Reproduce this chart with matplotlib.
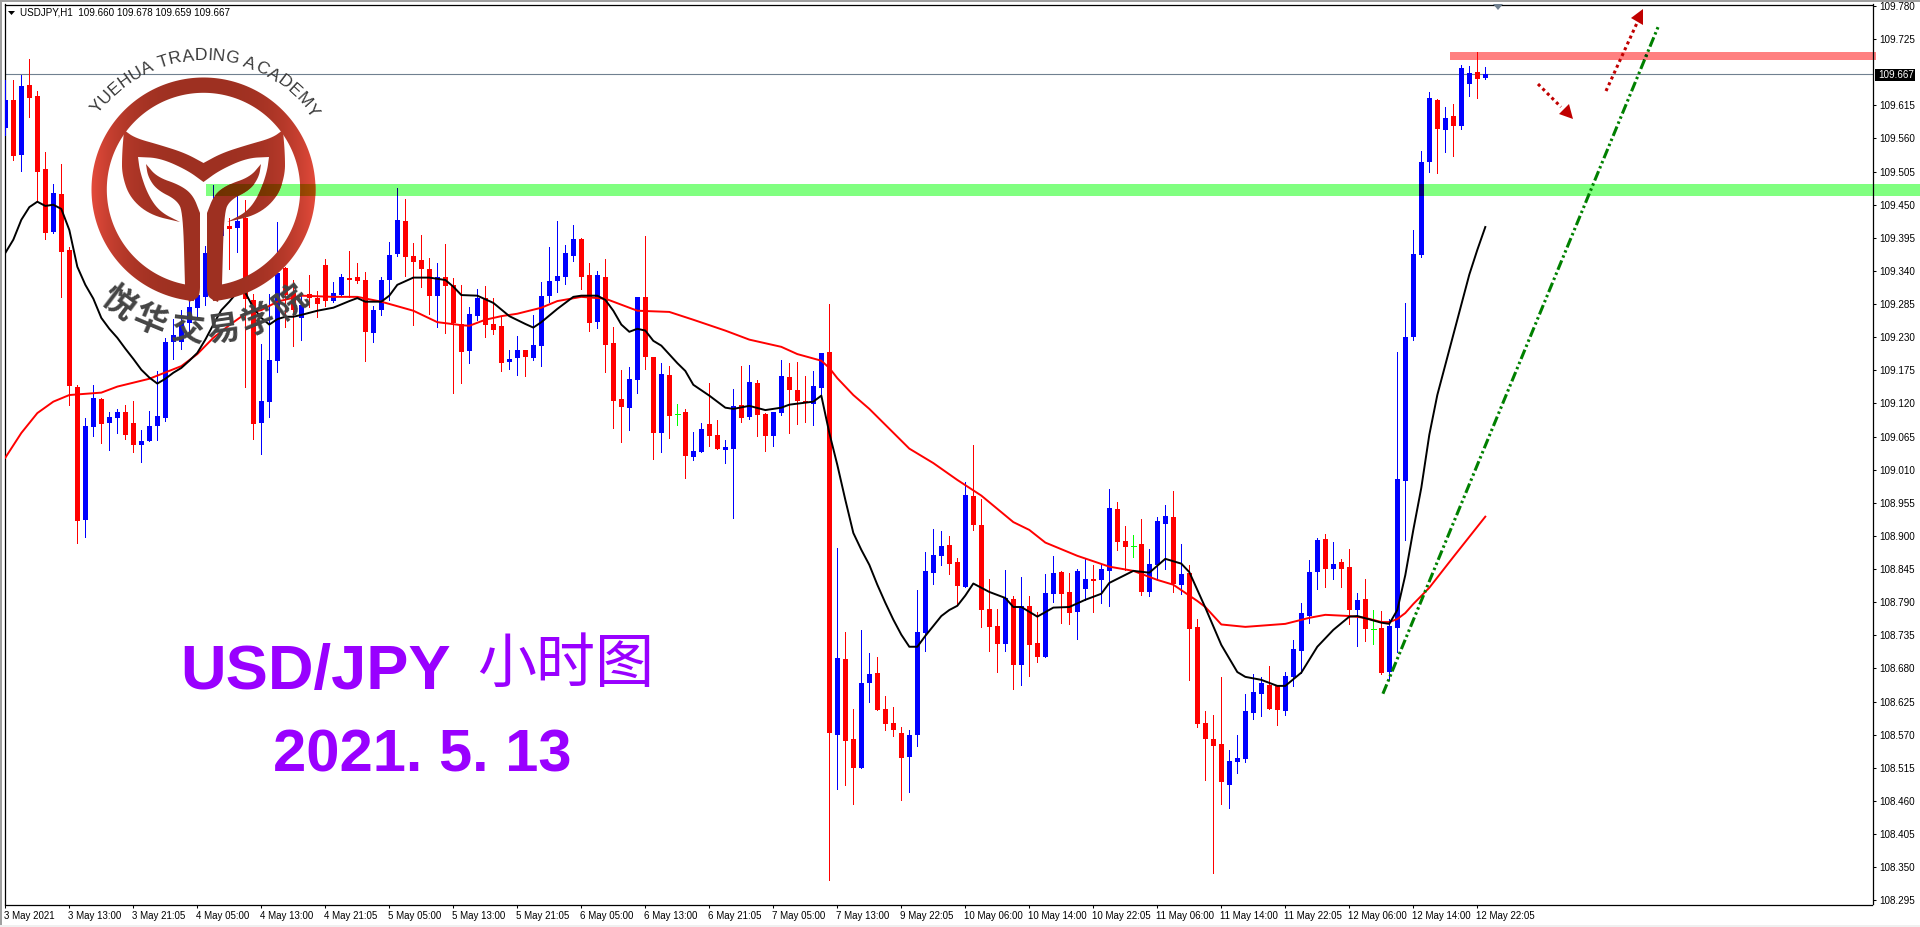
import numpy as np
import matplotlib
matplotlib.use('Agg')
import matplotlib.pyplot as plt
from matplotlib.font_manager import FontProperties
from matplotlib.patches import Polygon, Rectangle
from matplotlib.textpath import TextPath
from matplotlib.transforms import ScaledTranslation

opens = [
    109.578,109.624,109.533,109.649,109.631,109.509,109.405,109.468,109.375,109.148,
    108.927,109.081,109.128,109.088,109.096,109.106,109.088,109.051,109.058,109.083,
    109.096,109.222,109.222,109.254,109.279,109.297,109.370,109.398,109.415,109.412,
    109.428,109.292,109.088,109.123,109.191,109.345,109.304,109.262,109.302,109.295,
    109.350,109.290,109.300,109.329,109.330,109.325,109.237,109.275,109.325,109.368,
    109.423,109.365,109.358,109.343,109.299,109.330,109.317,109.252,109.207,109.265,
    109.295,109.252,109.249,109.189,109.196,109.209,109.196,109.216,109.299,109.324,
    109.330,109.365,109.393,109.334,109.255,109.330,109.221,109.128,109.113,109.159,
    109.297,109.197,109.071,109.168,109.103,109.106,109.031,109.040,109.086,109.068,
    109.043,109.045,109.118,109.098,109.154,109.103,109.066,109.104,109.164,109.143,
    109.124,109.119,109.146,109.206,108.570,108.696,108.563,108.515,108.656,108.673,
    108.613,108.590,108.573,108.533,108.570,108.739,108.839,108.867,108.885,108.857,
    108.816,108.967,108.918,108.779,108.751,108.721,108.796,108.686,108.784,108.723,
    108.699,108.804,108.840,108.807,108.774,108.812,108.829,108.827,108.842,108.945,
    108.892,108.884,108.887,108.807,108.852,108.920,108.932,108.819,108.839,108.749,
    108.590,108.563,108.555,108.487,108.525,108.530,108.606,108.638,108.653,108.651,
    108.610,108.665,108.709,108.767,108.840,108.895,108.845,108.857,108.849,108.777,
    108.796,108.746,108.747,108.674,108.747,108.992,109.231,109.367,109.521,109.624,
    109.574,109.597,109.581,109.651,109.670,109.660]
highs = [
    109.657,109.657,109.666,109.692,109.639,109.538,109.485,109.518,109.380,109.151,
    109.096,109.151,109.129,109.106,109.111,109.118,109.124,109.076,109.108,109.174,
    109.229,109.260,109.275,109.300,109.317,109.382,109.483,109.433,109.428,109.466,
    109.458,109.302,109.219,109.302,109.421,109.347,109.325,109.299,109.334,109.307,
    109.360,109.322,109.335,109.373,109.353,109.338,109.282,109.330,109.388,109.478,
    109.460,109.387,109.400,109.362,109.353,109.385,109.329,109.317,109.280,109.310,
    109.315,109.295,109.264,109.209,109.232,109.209,109.267,109.322,109.380,109.423,
    109.383,109.416,109.395,109.353,109.340,109.360,109.247,109.176,109.181,109.297,
    109.398,109.197,109.187,109.182,109.119,109.111,109.073,109.088,109.154,109.093,
    109.060,109.144,109.182,109.184,109.159,109.104,109.106,109.192,109.187,109.189,
    109.166,109.174,109.204,109.285,108.880,108.741,108.613,108.743,108.706,108.699,
    108.635,108.616,108.582,108.577,108.811,108.874,108.912,108.909,108.900,108.864,
    108.990,109.051,108.962,108.829,108.779,108.844,108.801,108.832,108.801,108.774,
    108.837,108.867,108.842,108.839,108.845,108.862,108.852,108.852,108.978,108.957,
    108.917,108.902,108.928,108.879,108.932,108.952,108.975,108.887,108.852,108.762,
    108.610,108.603,108.666,108.545,108.570,108.638,108.670,108.666,108.684,108.651,
    108.674,108.728,108.789,108.860,108.897,108.904,108.890,108.862,108.879,108.806,
    108.829,108.777,108.776,108.762,109.206,109.287,109.408,109.539,109.637,109.626,
    109.612,109.617,109.682,109.680,109.704,109.678]
lows = [
    109.566,109.524,109.506,109.596,109.456,109.393,109.403,109.297,109.118,108.889,
    108.899,109.066,109.055,109.043,109.071,109.061,109.040,109.023,109.058,109.060,
    109.091,109.194,109.211,109.237,109.262,109.284,109.355,109.392,109.343,109.372,
    109.148,109.061,109.036,109.098,109.172,109.247,109.216,109.226,109.280,109.264,
    109.282,109.289,109.300,109.297,109.320,109.191,109.222,109.267,109.292,109.365,
    109.332,109.251,109.314,109.269,109.247,109.237,109.138,109.154,109.187,109.259,
    109.231,109.236,109.174,109.177,109.168,109.166,109.192,109.182,109.289,109.305,
    109.319,109.357,109.310,109.241,109.246,109.172,109.080,109.056,109.076,109.138,
    109.177,109.028,109.040,109.063,109.085,108.996,109.026,109.040,109.050,109.045,
    109.021,108.930,109.089,109.094,109.066,109.041,109.050,109.101,109.071,109.086,
    109.089,109.084,109.131,108.329,108.480,108.487,108.455,108.515,108.625,108.611,
    108.577,108.568,108.462,108.475,108.552,108.709,108.821,108.852,108.836,108.786,
    108.816,108.910,108.749,108.709,108.674,108.709,108.646,108.653,108.668,108.691,
    108.699,108.791,108.756,108.753,108.729,108.794,108.774,108.789,108.784,108.877,
    108.844,108.865,108.802,108.801,108.830,108.845,108.807,108.804,108.661,108.582,
    108.495,108.341,108.455,108.449,108.507,108.525,108.596,108.601,108.613,108.586,
    108.603,108.651,108.673,108.756,108.812,108.816,108.829,108.816,108.754,108.718,
    108.726,108.721,108.670,108.661,108.708,108.894,109.226,109.363,109.504,109.503,
    109.538,109.531,109.576,109.631,109.627,109.659]
closes = [
    109.624,109.531,109.647,109.627,109.504,109.403,109.470,109.372,109.149,108.925,
    109.083,109.129,109.086,109.098,109.106,109.068,109.051,109.058,109.083,109.099,
    109.222,109.234,109.254,109.280,109.300,109.370,109.450,109.416,109.410,109.423,
    109.294,109.086,109.124,109.192,109.337,109.300,109.275,109.284,109.295,109.285,
    109.290,109.304,109.330,109.325,109.324,109.239,109.275,109.325,109.367,109.425,
    109.363,109.355,109.343,109.299,109.330,109.315,109.254,109.206,109.269,109.295,
    109.251,109.242,109.187,109.194,109.209,109.197,109.217,109.299,109.324,109.332,
    109.370,109.393,109.330,109.254,109.334,109.217,109.124,109.114,109.161,109.297,
    109.197,109.071,109.169,109.099,109.103,109.033,109.041,109.078,109.066,109.045,
    109.048,109.116,109.096,109.156,109.101,109.066,109.106,109.166,109.143,109.124,
    109.121,109.149,109.204,108.573,108.698,108.560,108.515,108.656,108.671,108.611,
    108.587,108.578,108.532,108.570,108.741,108.842,108.869,108.884,108.854,108.817,
    108.968,108.918,108.777,108.749,108.721,108.797,108.686,108.784,108.719,108.699,
    108.806,108.839,108.804,108.772,108.842,108.829,108.826,108.845,108.947,108.890,
    108.882,108.884,108.807,108.854,108.925,108.933,108.821,108.837,108.746,108.588,
    108.563,108.552,108.492,108.527,108.532,108.610,108.641,108.655,108.613,108.611,
    108.668,108.713,108.772,108.840,108.894,108.845,108.854,108.845,108.777,108.794,
    108.746,108.746,108.673,108.751,108.995,109.231,109.368,109.521,109.627,109.576,
    109.594,109.581,109.677,109.669,109.659,109.667]

black_bars = [0,1,2,3,4,5,6,7,8,9,10,11,12,13,14,15,16,17,18,19,20,21,22,23,24,25,26,27,28,29,30,31,32,33,34,35,36,37,
              39,41,43,44,45,47,48,49,51,53,55,56,57,59,61,63,65,66,67,69,71,72,74,75,76,77,78,79,80,81,82,84,85,86,88,
              90,91,93,95,97,98,101,102,103,104,105,106,107,108,109,110,111,112,113,114,115,117,118,119,120,121,123,125,
              126,127,129,131,133,135,137,138,141,143,145,147,148,150,152,154,155,157,159,160,162,164,166,168,169,172,
              173,174,175,176,177,178,179,180,181,182,183,184,185]
black_ma = [109.370,109.392,109.425,109.446,109.455,109.448,109.450,109.443,109.408,109.347,109.317,109.294,109.262,
            109.244,109.229,109.211,109.194,109.176,109.163,109.153,109.161,109.171,109.179,109.191,109.204,109.226,
            109.251,109.275,109.289,109.305,109.304,109.279,109.262,109.251,109.260,109.264,109.264,109.267,
            109.274,109.279,109.290,109.295,109.289,109.289,109.299,109.317,109.329,109.329,109.325,109.314,109.300,
            109.299,109.287,109.265,109.252,109.246,109.255,109.277,109.297,109.299,109.299,109.292,109.274,109.251,
            109.239,109.244,109.241,109.224,109.216,109.187,109.174,109.151,109.133,109.113,109.111,109.116,109.109,
            109.113,109.118,109.123,109.133,109.071,109.018,108.960,108.905,108.877,108.852,108.819,108.789,108.761,
            108.736,108.716,108.716,108.734,108.767,108.777,108.784,108.801,108.821,108.807,108.797,108.782,108.782,
            108.766,108.781,108.782,108.794,108.804,108.822,108.842,108.839,108.862,108.854,108.840,108.781,108.719,
            108.674,108.666,108.661,108.651,108.651,108.673,108.716,108.744,108.766,108.767,108.756,108.754,108.777,
            108.835,108.910,108.980,109.068,109.134,109.184,109.234,109.284,109.334,109.375,109.413]
red_bars = [0,2,4,6,8,12,14,18,22,24,26,28,30,32,34,37,41,44,47,51,54,57,58,60,62,64,67,69,72,75,79,83,86,90,93,97,99,
            102,103,104,106,108,113,116,119,122,126,128,130,134,138,141,144,146,149,150,152,155,159,160,163,165,168,170,
            172,173,174,175,176,178,181,185]
red_ma = [109.030,109.071,109.104,109.123,109.134,109.138,109.148,109.161,109.182,109.202,109.229,109.250,109.269,
          109.275,109.289,109.299,109.297,109.297,109.289,109.274,109.255,109.250,109.249,109.259,109.265,109.269,
          109.279,109.290,109.297,109.294,109.274,109.272,109.259,109.241,109.226,109.214,109.202,109.191,109.179,
          109.162,109.134,109.111,109.045,109.021,108.993,108.967,108.923,108.910,108.889,108.867,108.849,108.842,
          108.827,108.819,108.792,108.782,108.753,108.749,108.753,108.754,108.764,108.769,108.767,108.764,108.757,
          108.757,108.762,108.772,108.787,108.814,108.865,108.932]

trend_bars = [172.2, 206.7]
trend_prices = [108.638, 109.7485]
support_band = (109.465, 109.485)
support_start = 25.1
resist_band = (109.690, 109.704)
resist_start = 180.6
current_price = 109.667

y_ticks = [109.780,109.725,109.615,109.560,109.505,109.450,109.395,109.340,109.285,109.230,109.175,109.120,109.065,
           109.010,108.955,108.900,108.845,108.790,108.735,108.680,108.625,108.570,108.515,108.460,108.405,108.350,108.295]
x_labels = ['3 May 2021','3 May 13:00','3 May 21:05','4 May 05:00','4 May 13:00','4 May 21:05','5 May 05:00','5 May 13:00',
            '5 May 21:05','6 May 05:00','6 May 13:00','6 May 21:05','7 May 05:00','7 May 13:00','9 May 22:05','10 May 06:00',
            '10 May 14:00','10 May 22:05','11 May 06:00','11 May 14:00','11 May 22:05','12 May 06:00','12 May 14:00','12 May 22:05']

plt.rcParams['font.family'] = ['Liberation Sans', 'DejaVu Sans']
W, H = 1920, 927
fig = plt.figure(figsize=(W / 100, H / 100), dpi=100, facecolor='white')
ax = fig.add_axes([4.5 / W, (H - 904.5) / H, 1868 / W, 900 / H])
y_top = 109.7825
ax.set_ylim(y_top - 900 / 602.2, y_top)
ax.set_xlim(-0.104, 233.4)

o, h, l, c = map(np.array, (opens, highs, lows, closes))
bars = np.arange(len(o))
BLUE, RED, LIME = '#0000ff', '#ff0000', '#00ff00'


def draw_candles(mask, color, clip=None, zorder=3):
    wicks = ax.vlines(bars[mask], l[mask], h[mask], colors=color, lw=0.72, zorder=zorder, antialiased=False)
    top = np.maximum(o, c)[mask]
    bot = np.minimum(o, c)[mask]
    bodies = ax.bar(bars[mask], top - bot, bottom=bot, width=0.68, color=color, linewidth=0, zorder=zorder, antialiased=False)
    if clip is not None:
        wicks.set_clip_path(clip)
        for b in bodies:
            b.set_clip_path(clip)


ax.add_patch(Rectangle((support_start, support_band[0]), 240, support_band[1] - support_band[0], color='#80ff80', lw=0, zorder=1, clip_on=False))
ax.add_patch(Rectangle((resist_start, resist_band[0]), 53.3, resist_band[1] - resist_band[0], color='#ff8080', lw=0, zorder=1, clip_on=False))

draw_candles(c > o, BLUE)
draw_candles(c < o, RED)
doji = c == o
ax.vlines(bars[doji], l[doji], h[doji], colors=LIME, lw=0.72, zorder=3, antialiased=False)
ax.hlines(c[doji], bars[doji] - 0.31, bars[doji] + 0.31, colors=LIME, lw=0.72, zorder=3, antialiased=False)

# multiply look of the translucent zones over the candles
green_clip = Rectangle((support_start, support_band[0]), 240, support_band[1] - support_band[0], transform=ax.transData)
draw_candles(c > o, '#000080', clip=green_clip, zorder=4)
draw_candles(c < o, '#800000', clip=green_clip, zorder=4)

ax.plot(red_bars, red_ma, color=RED, lw=1.4, zorder=5)
ax.plot(black_bars, black_ma, color='black', lw=1.4, zorder=6)
ax.axhline(current_price, color='#708090', lw=0.8, zorder=2)

trend_style = (0, (3.3, 1, 0.8, 1, 0.8, 1))
ax.plot(trend_bars, trend_prices, color='#008000', lw=2.2, ls=trend_style, dash_capstyle='butt', zorder=6)
dark_line, = ax.plot(trend_bars, trend_prices, color='#004000', lw=2.2, ls=trend_style, dash_capstyle='butt', zorder=7)
dark_line.set_clip_path(Rectangle((resist_start, resist_band[0]), 53.3, resist_band[1] - resist_band[0], transform=ax.transData))

ax.yaxis.tick_right()
ax.set_yticks(y_ticks)
ax.set_yticklabels(['%.3f' % v for v in y_ticks], fontsize=7.1)
ax.set_xticks(np.arange(len(x_labels)) * 8)
ax.set_xticklabels(x_labels, fontsize=7, ha='left')
ax.tick_params(axis='y', length=2.4, width=0.75, pad=2.6)
ax.tick_params(axis='x', length=2.4, width=0.75, pad=2.2)
shift = ScaledTranslation(-1.5 / 100, 0, fig.dpi_scale_trans)
for t in ax.get_xticklabels():
    t.set_transform(t.get_transform() + shift)
for s in ax.spines.values():
    s.set_linewidth(0.9)

# overlay in pixel units for the logo, window frame and captions
ov = fig.add_axes([0, 0, 1, 1], zorder=10)
ov.set_xlim(0, W)
ov.set_ylim(H, 0)
ov.axis('off')
ov.patch.set_alpha(0)

ov.add_patch(Rectangle((0, 0), W, 1.5, color='#a0a0a0', lw=0))
ov.add_patch(Rectangle((0, 0), 2, H, color='#a0a0a0', lw=0))
ov.add_patch(Rectangle((0, 925), W, 2, color='#f0f0f0', lw=0))

ov.add_patch(Polygon([(8, 11), (15, 11), (11.5, 15)], color='black', lw=0))
ov.text(20, 12.5, 'USDJPY,H1  109.660 109.678 109.659 109.667', fontsize=7.1, va='center', ha='left', color='black')
ov.add_patch(Polygon([(1493, 4), (1503, 4), (1498, 10)], color='#708090', lw=0))

ov.add_patch(Rectangle((1875, 69), 40, 11.5, color='black', lw=0))
ov.text(1878, 75, '%.3f' % current_price, color='white', fontsize=7.1, va='center', ha='left')


def chaikin(pts, n=3):
    pts = np.array(pts, dtype=float)
    for _ in range(n):
        q = 0.75 * pts[:-1] + 0.25 * pts[1:]
        r = 0.25 * pts[:-1] + 0.75 * pts[1:]
        mid = np.empty((2 * len(q), 2))
        mid[0::2], mid[1::2] = q, r
        pts = np.vstack([pts[:1], mid, pts[-1:]])
    return pts


CX, CY = 203.5, 189.5


def mirror(pts):
    out = np.array(pts, dtype=float)
    out[:, 0] = 2 * CX - out[:, 0]
    return out


top_edge = chaikin([(124, 130), (135, 138), (160, 145), (185, 153), (CX, 163)])
under_edge = chaikin([(CX, 182), (187, 170), (160, 158), (138, 157)])
inner_edge = chaikin([(138, 157), (140, 172), (148, 195), (160, 212), (180, 222)])
outer_edge = chaikin([(180, 222), (150, 215), (130, 198), (122, 175), (122, 155), (124, 130)])
wings = np.vstack([top_edge, mirror(top_edge)[::-1], mirror(outer_edge)[::-1], mirror(inner_edge)[::-1],
                   mirror(under_edge)[::-1], under_edge, inner_edge, outer_edge])
stem_a = chaikin([(146, 164), (157, 177), (180, 185), (193, 195), (200, 213)])
stem_b = chaikin([(200, 280), (200, 292), (198, 298), (189, 302)])
stem_c = chaikin([(185, 285), (183, 213), (177, 200), (157, 190), (148, 177), (146, 164)])
stem = np.vstack([stem_a, stem_b, stem_c])
a_out = np.radians(np.linspace(5, 355, 240))
a_in = np.radians(np.linspace(358, 2, 240))
ring = np.vstack([np.column_stack([CX - 112 * np.sin(a_out), CY + 112 * np.cos(a_out)]),
                  np.column_stack([CX - 96.7 * np.sin(a_in), CY + 96.7 * np.cos(a_in)])])
logo_parts = [ring, wings, stem, mirror(stem)]

xs = np.linspace(91, 316, 226)
edge = np.clip(np.abs(xs - CX) / 112, 0, 1) ** 3.2
c_mid, c_edge = np.array([0.62, 0.19, 0.13]), np.array([0.89, 0.29, 0.23])
grad = (c_mid + (c_edge - c_mid) * edge[:, None])[None, :, :]
for part in logo_parts:
    pg = Polygon(part, closed=True, transform=ov.transData, fc='none', ec='none')
    ov.add_patch(pg)
    im = ov.imshow(grad, extent=(91, 316, 302, 77), aspect='auto', zorder=2)
    im.set_clip_path(pg)
    dark = grad[:, 115:, :] * np.array([0.72, 1.05, 0.05])
    im2 = ov.imshow(np.clip(dark, 0, 1), extent=(206, 316, 196, 184), aspect='auto', zorder=3)
    im2.set_clip_path(pg)
ov.set_xlim(0, W)
ov.set_ylim(H, 0)

arc_text = 'YUEHUA TRADING ACADEMY'
fp = FontProperties(family='Liberation Sans')
arc_size = 17.5
adv = [0.278 * arc_size if ch == ' ' else TextPath((0, 0), ch, size=arc_size, prop=fp).get_extents().x1 + 1 for ch in arc_text]
pos = np.cumsum([0] + adv[:-1]) + np.array(adv) / 2
pos = (pos - pos[0]) / (pos[-1] - pos[0])
for ch, f in zip(arc_text, pos):
    ang = np.radians(-52 + 106 * f)
    ov.text(CX + 134 * np.sin(ang), CY - 134 * np.cos(ang), ch, fontsize=12.6, color='#3a3a3a', ha='center', va='center',
            rotation=-np.degrees(ang), rotation_mode='anchor', zorder=5)

cn_name = '悦华交易学院'
cn_angles = [37, 22.5, 6.5, -8, -22.5, -38]
for ch, deg in zip(cn_name, cn_angles):
    rad = np.radians(deg)
    ov.text(CX - 142 * np.sin(rad), CY + 142 * np.cos(rad), ch, fontsize=24, color='#444444', fontweight='bold',
            family=['Noto Sans CJK SC', 'DejaVu Sans'], ha='center', va='center', rotation=-deg, rotation_mode='anchor', zorder=5)

PURPLE = '#9900ff'
ov.text(180, 688.5, 'USD/JPY', fontsize=45.5, fontweight='bold', color=PURPLE, ha='left', va='baseline', zorder=5)
ov.text(566, 665.5, '小时图', fontsize=42.5, color=PURPLE, family=['Noto Sans CJK SC', 'DejaVu Sans'], ha='center', va='center', zorder=5)
ov.text(273, 771.5, '2021. 5. 13', fontsize=43, fontweight='bold', color=PURPLE, ha='left', va='baseline', zorder=5)

# hand drawn arrows
ARROW = '#c00000'
ov.plot([1538, 1561], [84, 107], color=ARROW, lw=2.2, ls=(0, (1, 1.1)), dash_capstyle='butt', zorder=5)
ov.add_patch(Polygon([(1573, 119), (1559, 114), (1569, 104)], color=ARROW, lw=0, zorder=5))
ov.plot([1606, 1637], [91, 23], color=ARROW, lw=2.2, ls=(0, (1, 1.1)), dash_capstyle='butt', zorder=5)
ov.add_patch(Polygon([(1643, 9), (1643, 25), (1631, 18)], color=ARROW, lw=0, zorder=5))

fig.savefig('out.png', dpi=100)
